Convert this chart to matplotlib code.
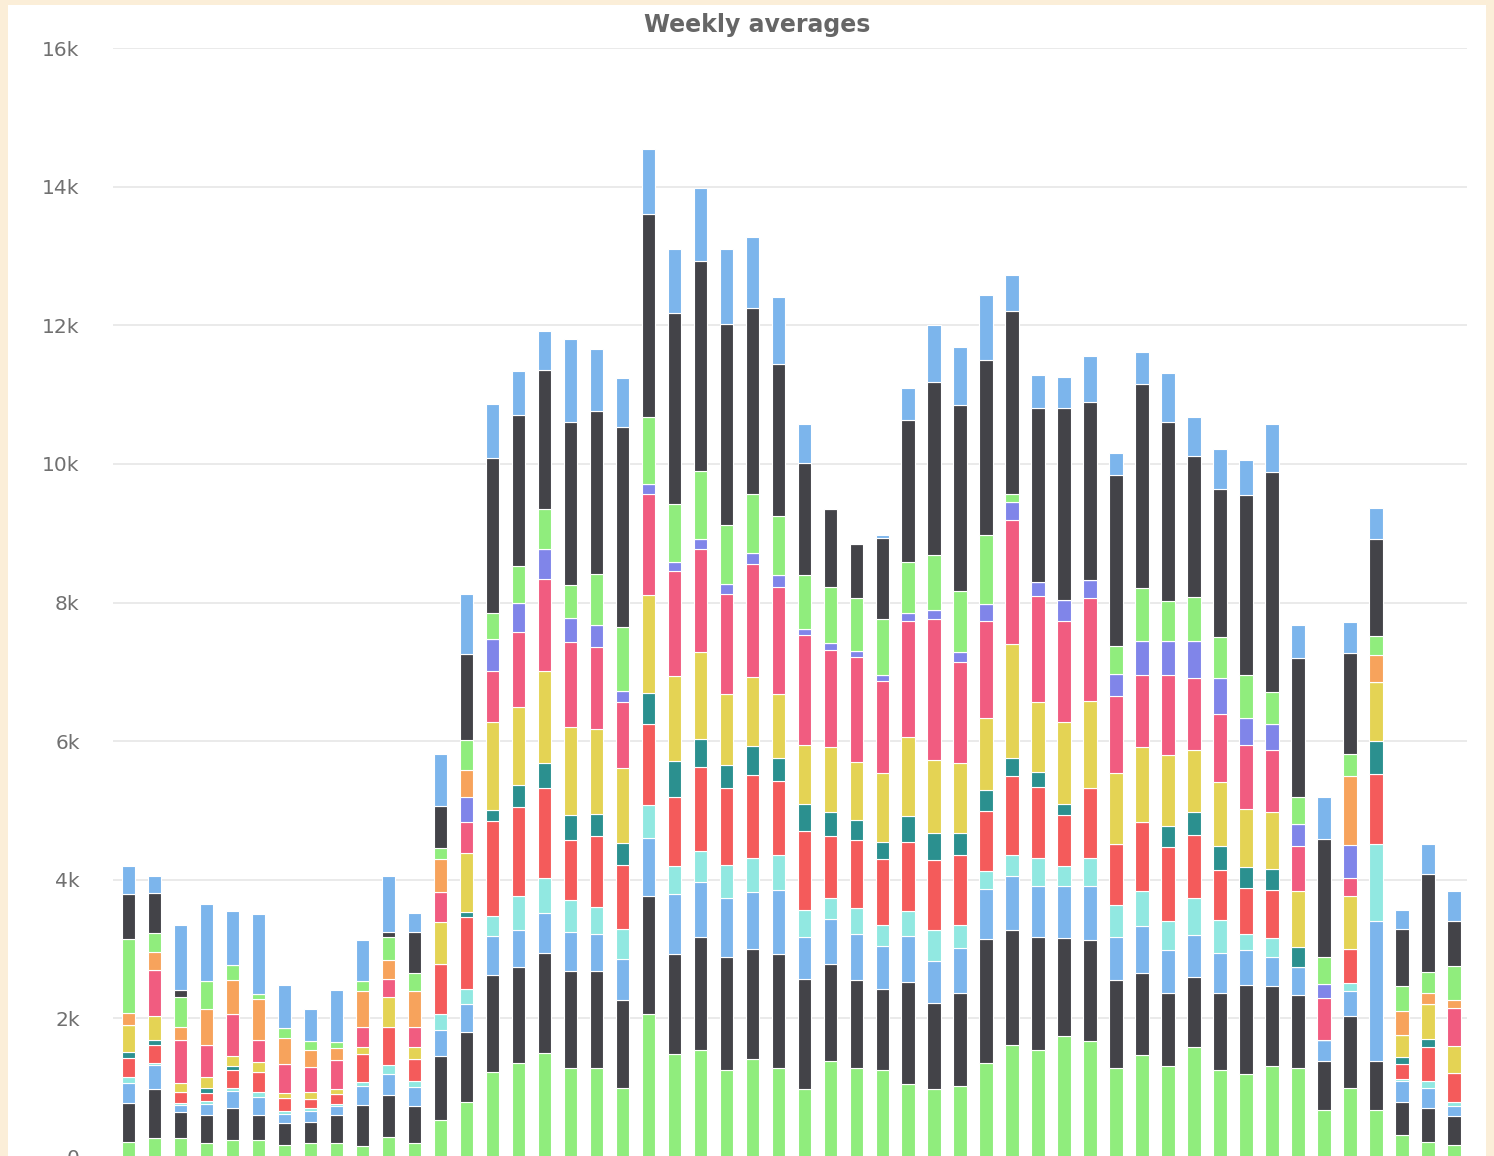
import numpy as np
import matplotlib
matplotlib.use("Agg")
import matplotlib.pyplot as plt

# weeks on the x axis (labels are cut off in the original screenshot)
weeks = list(range(1, 53))

# stacked series, listed from the bottom of each bar to the top
green_low = [220, 270, 270, 200, 250, 250, 170, 200, 200, 160, 290, 200, 530, 800, 1230, 1350,
             1500, 1280, 1280, 990, 2060, 1490, 1540, 1260, 1410, 1280, 980, 1380, 1280, 1260,
             1060, 980, 1020, 1350, 1620, 1540, 1750, 1670, 1280, 1470, 1310, 1590, 1260, 1200,
             1320, 1280, 680, 990, 680, 320, 220, 180]
dark_low = [560, 710, 380, 400, 450, 360, 320, 300, 400, 590, 610, 540, 920, 1010, 1390, 1390,
            1440, 1400, 1410, 1280, 1700, 1440, 1640, 1620, 1590, 1650, 1590, 1410, 1280, 1170,
            1470, 1240, 1340, 1800, 1660, 1630, 1410, 1460, 1280, 1190, 1050, 1010, 1100, 1280,
            1140, 1060, 710, 1040, 710, 480, 480, 410]
blue_low = [290, 350, 100, 170, 250, 260, 130, 170, 130, 270, 300, 270, 380, 400, 570, 530,
            580, 560, 530, 590, 840, 870, 790, 850, 830, 920, 610, 640, 660, 620,
            660, 610, 650, 720, 770, 740, 750, 780, 620, 670, 620, 610, 580, 500,
            430, 400, 300, 360, 2010, 290, 300, 140]
aqua = [90, 30, 30, 40, 40, 70, 40, 40, 40, 60, 130, 90, 240, 220, 290, 490,
        500, 470, 390, 430, 480, 400, 450, 490, 480, 510, 390, 310, 370, 300,
        360, 450, 330, 250, 300, 400, 290, 410, 450, 510, 430, 520, 480, 240,
        270, 0, 0, 120, 1110, 30, 100, 60]
red = [270, 260, 160, 120, 260, 290, 190, 130, 140, 400, 550, 320, 710, 1030, 1370, 1290,
       1310, 870, 1020, 920, 1160, 1000, 1200, 1110, 1200, 1060, 1140, 890, 980, 950,
       1000, 1000, 1010, 870, 1150, 1030, 730, 1000, 890, 1000, 1060, 920, 720, 660,
       690, 0, 0, 490, 1010, 220, 490, 420]
teal = [90, 70, 0, 60, 70, 0, 0, 0, 0, 0, 0, 0, 0, 70, 160, 310,
        360, 360, 320, 320, 460, 510, 410, 330, 420, 330, 390, 350, 290, 240,
        370, 390, 320, 300, 250, 220, 160, 0, 0, 0, 300, 330, 350, 300,
        310, 290, 0, 0, 480, 100, 110, 0]
yellow = [390, 350, 130, 170, 140, 140, 70, 100, 70, 100, 430, 170, 610, 850, 1260, 1130,
          1320, 1260, 1230, 1080, 1410, 1230, 1250, 1020, 1000, 930, 840, 930, 840, 1000,
          1140, 1060, 1020, 1050, 1650, 1000, 1190, 1260, 1020, 1080, 1030, 890, 920, 840,
          820, 810, 0, 770, 860, 320, 510, 390]
pink = [0, 660, 620, 450, 610, 320, 420, 360, 420, 300, 260, 290, 430, 460, 740, 1080,
        1330, 1230, 1180, 950, 1460, 1510, 1490, 1440, 1630, 1540, 1590, 1400, 1510, 1330,
        1670, 2030, 1450, 1400, 1790, 1540, 1460, 1490, 1110, 1040, 1160, 1040, 980, 920,
        890, 650, 610, 250, 0, 0, 0, 550]
purple = [0, 0, 0, 0, 0, 0, 0, 0, 0, 0, 0, 0, 0, 360, 460, 430,
          430, 340, 310, 170, 140, 140, 150, 140, 160, 170, 90, 110, 90, 90,
          120, 130, 140, 240, 260, 200, 300, 250, 320, 480, 480, 530, 520, 400,
          370, 320, 200, 480, 0, 0, 0, 0]
orange = [170, 260, 190, 530, 480, 590, 380, 250, 170, 520, 270, 510, 480, 390, 0, 0,
          0, 0, 0, 0, 0, 0, 0, 0, 0, 0, 0, 0, 0, 0,
          0, 0, 0, 0, 0, 0, 0, 0, 0, 0, 0, 0, 0, 0,
          0, 0, 0, 1000, 380, 340, 160, 120]
green_high = [1070, 270, 430, 400, 220, 70, 140, 130, 90, 140, 330, 270, 160, 420, 380, 520,
              580, 480, 740, 910, 970, 830, 980, 860, 840, 860, 780, 810, 760, 800,
              740, 790, 890, 990, 110, 0, 0, 0, 400, 770, 580, 640, 590, 610,
              470, 380, 380, 310, 270, 360, 300, 480]
dark_high = [650, 580, 100, 0, 0, 0, 0, 0, 0, 0, 70, 580, 610, 1240, 2240, 2190,
             2010, 2350, 2360, 2890, 2930, 2750, 3030, 2900, 2690, 2190, 1610, 1120, 780, 1170,
             2050, 2500, 2680, 2530, 2650, 2510, 2760, 2570, 2470, 2940, 2580, 2030, 2140, 2600,
             3170, 2010, 1710, 1460, 1400, 830, 1410, 660]
blue_high = [400, 250, 940, 1110, 780, 1150, 620, 460, 750, 590, 820, 280, 740, 870, 780, 630,
             550, 1200, 890, 710, 930, 930, 1050, 1080, 1020, 970, 560, 0, 0, 50,
             450, 820, 830, 940, 510, 470, 450, 660, 310, 460, 710, 560, 580, 500,
             690, 470, 600, 450, 450, 270, 430, 430]

stack = [green_low, dark_low, blue_low, aqua, red, teal, yellow, pink, purple, orange,
         green_high, dark_high, blue_high]
colors = ['#90ed7d', '#434348', '#7cb5ec', '#91e8e1', '#f45b5b', '#2b908f', '#e4d354',
          '#f15c80', '#8085e9', '#f7a35c', '#90ed7d', '#434348', '#7cb5ec']

W, H = 1494, 1156
fig = plt.figure(figsize=(W / 100, H / 100), dpi=100)
fig.patch.set_facecolor('#fbeed8')

# white card inside the cream frame, drawn as a background axes
card = fig.add_axes([8 / W, 0, 1 - 16 / W, 1 - 5 / H], zorder=-5)
card.set_facecolor('white')
card.set_xticks([])
card.set_yticks([])
for s in card.spines.values():
    s.set_visible(False)

left, right, top_px, zero_px = 113, 1467, 48, 1157
ax = fig.add_axes([left / W, 1 - zero_px / H, (right - left) / W, (zero_px - top_px) / H])
ax.set_facecolor('none')

x = np.arange(len(weeks))
bottom = np.zeros(len(weeks))
for vals, c in zip(stack, colors):
    vals = np.array(vals, dtype=float)
    ax.bar(x, vals, width=0.52, bottom=bottom, color=c, edgecolor='white', linewidth=0.8, zorder=3)
    bottom += vals

ax.set_xlim(-0.6, len(weeks) - 0.5)
ax.set_ylim(0, 16000)
yt = np.arange(0, 16001, 2000)
ax.set_yticks(yt)
ax.set_yticklabels(['0' if v == 0 else f'{v // 1000}k' for v in yt])
ax.tick_params(axis='y', length=0, pad=24, labelsize=14.5, labelcolor='#707070')
ax.set_xticks([])
for s in ax.spines.values():
    s.set_visible(False)
ax.grid(axis='y', color='#e6e6e6', linewidth=1.2, zorder=0)
ax.set_axisbelow(True)

fig.text(757 / W, 1 - 25 / H, 'Weekly averages', ha='center', va='center',
         fontsize=17, fontweight='bold', color='#666666')

fig.savefig('out.png', dpi=100, facecolor=fig.get_facecolor())
